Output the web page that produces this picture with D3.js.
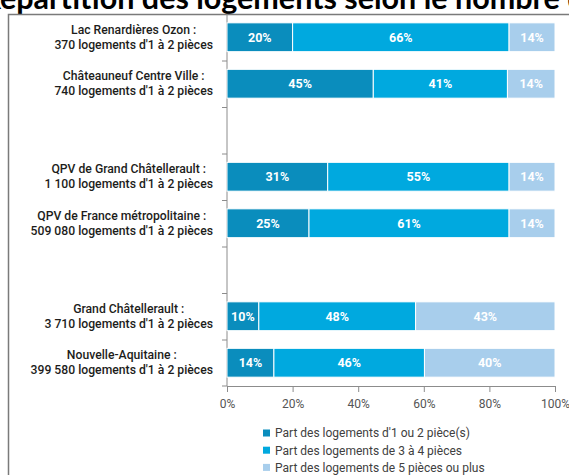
<!DOCTYPE html>
<html><head><meta charset="utf-8">
<script src="https://cdn.jsdelivr.net/npm/d3@7"></script>
<style>body{margin:0;background:#fff}svg{display:block}</style>
</head><body>
<svg id="c" width="569" height="475"></svg>
<script>
const title = "Répartition des logements selon le nombre de pièces";
const categories = ["Lac Renardières Ozon :", "Châteauneuf Centre Ville :", "QPV de Grand Châtellerault :", "QPV de France métropolitaine :", "Grand Châtellerault :", "Nouvelle-Aquitaine :"];
const subLabels = ["370 logements d'1 à 2 pièces", "740 logements d'1 à 2 pièces", "1 100 logements d'1 à 2 pièces", "509 080 logements d'1 à 2 pièces", "3 710 logements d'1 à 2 pièces", "399 580 logements d'1 à 2 pièces"];
const gapAfter = [1, 3]; // blank rows after these category indexes
const share12 = [20, 44.6, 30.7, 25, 9.7, 14.3];
const share34 = [66, 40.9, 55.3, 61, 47.8, 45.9];
const share5 = [14, 14.5, 14, 14, 42.5, 39.8];
const labels12 = ["20%", "45%", "31%", "25%", "10%", "14%"];
const labels34 = ["66%", "41%", "55%", "61%", "48%", "46%"];
const labels5 = ["14%", "14%", "14%", "14%", "43%", "40%"];
const seriesNames = ["Part des logements d'1 ou 2 pièce(s)", "Part des logements de 3 à 4 pièces", "Part des logements de 5 pièces ou plus"];
const xTicks = [0, 20, 40, 60, 80, 100];

const colors = ["#0a8dbd", "#00a9df", "#a8ceec"];
const svg = d3.select("#c");

// title (cropped at top, as in the reference)
const t = svg.append("text").attr("font-family", "Lato, 'Open Sans', sans-serif")
  .attr("font-weight", 700).attr("font-size", 20).attr("fill", "#000");
t.text("épartition des logements selon le nombre ");
const w20 = t.node().getComputedTextLength();
const fs = 20 * 560 / w20;
t.attr("font-size", fs).text("R");
const wR = t.node().getComputedTextLength();
t.text(title).attr("x", -wR + 1).attr("y", 9);

// frame
svg.append("path").attr("d", "M8.5,475 V14.5 H569").attr("fill", "none")
  .attr("stroke", "#7a7a7a").attr("stroke-width", 1.5);

// domain with gaps
const keys = [];
categories.forEach((c, i) => { keys.push("c" + i); if (gapAfter.includes(i)) keys.push("g" + i); });

const x = d3.scaleLinear().domain([0, 100]).range([227, 555]);
const pad = 0.38;
const y = d3.scaleBand().domain(keys).range([14, 386]).paddingInner(pad).paddingOuter(pad / 2);

const rows = categories.map((c, i) => ({
  key: "c" + i, name: c, sub: subLabels[i],
  vals: [share12[i], share34[i], share5[i]],
  labs: [labels12[i], labels34[i], labels5[i]]
}));

// axes
const axisColor = "#8c8c8c";
const yAx = svg.append("g");
yAx.append("line").attr("x1", 227).attr("x2", 227).attr("y1", 14).attr("y2", 386).attr("stroke", axisColor);
yAx.selectAll("line.t").data(keys.slice(1).concat(["end"])).join("line").attr("class", "t")
  .attr("x1", 222).attr("x2", 227)
  .attr("y1", d => d === "end" ? 386 : y(d) - y.step() * pad / 2 + 0.5)
  .attr("y2", d => d === "end" ? 386 : y(d) - y.step() * pad / 2 + 0.5)
  .attr("stroke", axisColor);

const xAx = svg.append("g").attr("transform", "translate(0,386)")
  .call(d3.axisBottom(x).tickValues(xTicks).tickFormat(d => d + "%").tickSize(6).tickPadding(7));
xAx.select(".domain").attr("stroke", axisColor);
xAx.selectAll(".tick line").attr("stroke", axisColor);
xAx.selectAll(".tick text").attr("font-family", "Roboto, sans-serif").attr("font-size", 12).attr("fill", "#555");

// bars
const g = svg.append("g");
rows.forEach(r => {
  let acc = 0;
  r.vals.forEach((v, j) => {
    const x0 = x(acc), x1 = x(acc + v);
    g.append("rect").attr("x", x0).attr("y", y(r.key)).attr("width", x1 - x0).attr("height", y.bandwidth())
      .attr("fill", colors[j]).attr("stroke", "#fff").attr("stroke-width", 1);
    g.append("text").attr("x", (x0 + x1) / 2).attr("y", y(r.key) + y.bandwidth() / 2).attr("dy", "0.36em")
      .attr("text-anchor", "middle").attr("font-family", "Roboto, sans-serif").attr("font-weight", 700)
      .attr("font-size", 12.5).attr("fill", "#fff").text(r.labs[j]);
    acc += v;
  });
});

// category labels: block right-aligned at 213, lines centered within
rows.forEach(r => {
  const cy = y(r.key) + y.bandwidth() / 2;
  const lg = svg.append("g").attr("font-family", "Roboto, sans-serif").attr("font-weight", 500)
    .attr("font-size", 12.2).attr("fill", "#1d1d1b").attr("text-anchor", "middle");
  const a = lg.append("text").attr("y", cy - 3.5).text(r.name);
  const b = lg.append("text").attr("y", cy + 11.5).text(r.sub);
  const wmax = Math.max(a.node().getComputedTextLength(), b.node().getComputedTextLength());
  const cx = 213 - wmax / 2;
  a.attr("x", cx); b.attr("x", cx);
});

// legend
const leg = svg.append("g");
seriesNames.forEach((s, i) => {
  const ly = 433 + i * 17.2;
  leg.append("rect").attr("x", 263).attr("y", ly - 3.5).attr("width", 7).attr("height", 7).attr("fill", colors[i]);
  leg.append("text").attr("x", 275).attr("y", ly).attr("dy", "0.36em")
    .attr("font-family", "Roboto, sans-serif").attr("font-size", 12).attr("fill", "#404040").text(s);
});
</script>
</body></html>
